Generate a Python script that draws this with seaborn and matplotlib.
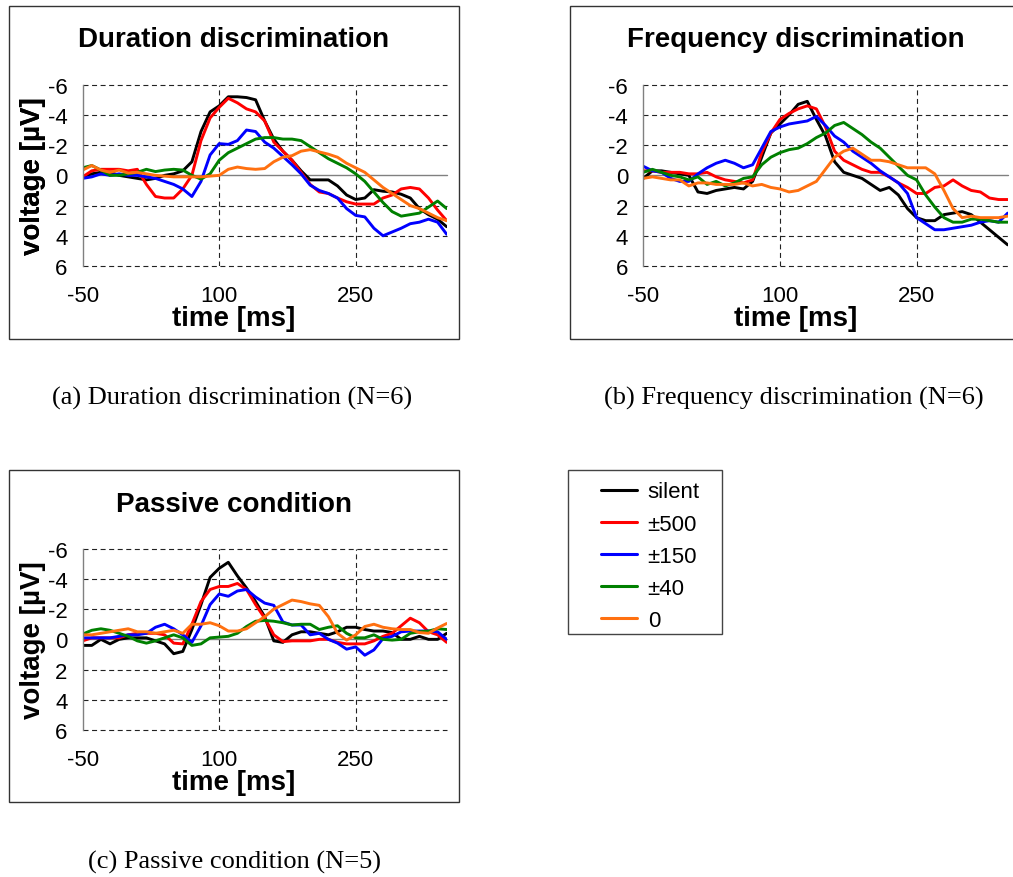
import matplotlib
matplotlib.use("Agg")
import matplotlib.pyplot as plt
import numpy as np
import pandas as pd
import seaborn as sns
from matplotlib.patches import Rectangle

# ---------------- data ----------------
time_ms = list(range(-50, 351, 10))
conditions = ["silent", "±500", "±150", "±40", "0"]
colors = ["#000000", "#ff0000", "#0000ff", "#008000", "#ff7010"]

x_ticks = [-50, 100, 250]
x_tick_labels = ["-50", "100", "250"]
y_ticks = [-6, -4, -2, 0, 2, 4, 6]
y_tick_labels = ["-6", "-4", "-2", "0", "2", "4", "6"]

panel_titles = ["Duration discrimination", "Frequency discrimination", "Passive condition"]
captions = ["(a) Duration discrimination (N=6)",
            "(b) Frequency discrimination (N=6)",
            "(c) Passive condition (N=5)"]

# (a) Duration discrimination
dur_silent = [0.1, -0.1, -0.2, -0.2, 0.0, 0.1, 0.2, 0.3, 0.2, 0.0, -0.1, -0.3, -0.9, -2.9, -4.2, -4.6,
              -5.2, -5.2, -5.15, -5.0, -3.6, -2.4, -1.6, -1.0, -0.3, 0.3, 0.3, 0.3, 0.7, 1.3, 1.6,
              1.5, 0.95, 1.05, 1.1, 1.25, 1.5, 2.2, 2.6, 2.9, 3.4]
dur_500 = [0.1, -0.3, -0.4, -0.4, -0.4, -0.3, -0.4, 0.6, 1.4, 1.5, 1.5, 0.9, 0.0, -2.3, -3.8, -4.5,
           -5.1, -4.8, -4.4, -4.2, -3.6, -2.2, -1.6, -1.0, -0.2, 0.6, 1.1, 1.2, 1.5, 1.75, 1.9,
           1.9, 1.9, 1.5, 1.3, 0.9, 0.8, 0.9, 1.5, 2.3, 3.0]
dur_150 = [0.2, 0.1, -0.1, 0.0, -0.1, 0.0, 0.0, 0.1, 0.2, 0.4, 0.6, 0.9, 1.4, 0.4, -1.35, -2.1,
           -2.05, -2.3, -3.0, -2.9, -2.2, -1.8, -1.25, -0.7, -0.1, 0.65, 1.0, 1.2, 1.5, 2.2, 2.65,
           2.75, 3.5, 4.0, 3.75, 3.5, 3.2, 3.1, 2.9, 3.1, 3.9]
dur_40 = [-0.5, -0.65, -0.35, 0.0, 0.0, -0.1, -0.2, -0.4, -0.25, -0.35, -0.4, -0.35, 0.0, 0.25, -0.1,
          -1.0, -1.5, -1.8, -2.1, -2.4, -2.5, -2.5, -2.4, -2.4, -2.3, -1.9, -1.5, -1.1, -0.8, -0.5,
          -0.1, 0.4, 1.1, 1.8, 2.4, 2.7, 2.6, 2.5, 2.1, 1.7, 2.2]
dur_0 = [-0.35, -0.65, -0.35, -0.2, -0.35, -0.15, -0.2, -0.1, 0.0, 0.05, 0.1, 0.1, 0.1, 0.1, 0.05,
         0.0, -0.4, -0.55, -0.45, -0.4, -0.45, -0.9, -1.2, -1.3, -1.6, -1.7, -1.55, -1.4, -1.2, -0.8,
         -0.5, -0.2, 0.3, 0.8, 1.2, 1.6, 2.0, 2.2, 2.5, 2.8, 3.0]

# (b) Frequency discrimination
freq_silent = [0.2, -0.3, -0.3, -0.2, -0.1, 0.0, 1.1, 1.2, 1.0, 0.9, 0.8, 0.9, 0.4, -1.2, -2.8, -3.4,
               -4.0, -4.7, -4.9, -3.7, -2.6, -0.9, -0.2, 0.0, 0.2, 0.6, 1.0, 0.8, 1.3, 2.2, 2.8,
               3.0, 3.0, 2.6, 2.5, 2.4, 2.6, 3.1, 3.6, 4.1, 4.6]
freq_500 = [-0.3, -0.3, -0.2, -0.2, -0.2, -0.1, -0.1, -0.2, 0.1, 0.3, 0.4, 0.5, 0.3, -1.5, -2.8, -3.7,
            -4.1, -4.4, -4.6, -4.4, -3.2, -1.6, -1.0, -0.7, -0.4, -0.2, -0.2, 0.1, 0.5, 0.8, 1.2,
            1.2, 0.8, 0.7, 0.3, 0.7, 1.0, 1.1, 1.5, 1.6, 1.6]
freq_150 = [-0.6, -0.3, -0.2, 0.2, 0.4, 0.4, -0.1, -0.5, -0.8, -1.0, -0.8, -0.5, -0.7, -1.8, -2.9, -3.2,
            -3.4, -3.5, -3.6, -3.9, -3.3, -2.6, -2.2, -1.6, -1.2, -0.8, -0.3, 0.1, 0.5, 1.2, 2.8,
            3.2, 3.6, 3.6, 3.5, 3.4, 3.3, 3.1, 3.0, 3.1, 2.5]
freq_40 = [-0.2, -0.4, -0.2, 0.0, 0.1, 0.3, 0.1, 0.6, 0.4, 0.7, 0.5, 0.2, 0.1, -0.7, -1.2, -1.5,
           -1.7, -1.8, -2.1, -2.5, -2.8, -3.3, -3.5, -3.1, -2.7, -2.2, -1.8, -1.2, -0.6, 0.0, 0.3,
           1.3, 2.1, 2.8, 3.1, 3.1, 2.9, 2.9, 3.0, 3.1, 3.1]
freq_0 = [0.2, 0.1, 0.2, 0.3, 0.3, 0.7, 0.5, 0.5, 0.6, 0.6, 0.6, 0.5, 0.7, 0.6, 0.8, 0.9,
          1.1, 1.0, 0.7, 0.4, -0.4, -1.2, -1.6, -1.8, -1.4, -1.0, -1.0, -0.9, -0.7, -0.5, -0.5,
          -0.5, -0.1, 1.0, 2.2, 2.8, 2.7, 2.8, 2.8, 2.8, 2.7]

# (c) Passive condition
pas_silent = [0.4, 0.4, 0.0, 0.3, 0.0, -0.1, -0.1, -0.1, 0.1, 0.3, 0.95, 0.8, -0.65, -2.3, -4.1, -4.7,
              -5.1, -4.2, -3.4, -2.5, -1.5, 0.1, 0.2, -0.3, -0.5, -0.5, -0.4, -0.3, -0.5, -0.8, -0.8,
              -0.65, -0.55, -0.55, -0.45, 0.0, 0.0, -0.2, 0.0, 0.0, -0.4]
pas_500 = [0.1, -0.1, -0.1, -0.1, -0.1, -0.3, -0.4, -0.4, -0.4, -0.3, 0.25, 0.3, -1.0, -2.5, -3.3, -3.5,
           -3.5, -3.7, -3.3, -2.3, -1.4, -0.3, 0.15, 0.1, 0.1, 0.1, 0.0, 0.0, 0.2, 0.3, 0.3,
           0.3, 0.1, -0.2, -0.4, -0.9, -1.4, -1.1, -0.5, -0.3, 0.2]
pas_150 = [-0.1, -0.1, -0.1, -0.1, -0.2, -0.3, -0.3, -0.4, -0.8, -1.0, -0.7, -0.3, 0.2, -0.9, -2.3, -3.0,
           -2.85, -3.2, -3.3, -2.8, -2.4, -2.25, -1.15, -0.95, -0.95, -0.3, -0.4, 0.0, 0.25, 0.65, 0.5,
           1.05, 0.7, -0.05, -0.2, -0.5, -0.55, -0.55, -0.55, -0.5, 0.0]
pas_40 = [-0.35, -0.6, -0.7, -0.6, -0.4, -0.2, 0.1, 0.25, 0.1, -0.1, -0.3, -0.1, 0.4, 0.3, -0.1, -0.15,
          -0.2, -0.4, -0.85, -1.2, -1.25, -1.2, -1.1, -0.95, -1.0, -1.0, -0.65, -0.8, -0.9, -0.4, -0.1,
          -0.1, -0.3, 0.0, 0.05, 0.0, -0.4, -0.5, -0.55, -0.7, -0.65]
pas_0 = [-0.3, -0.3, -0.4, -0.5, -0.6, -0.7, -0.5, -0.5, -0.4, -0.5, -0.6, -0.4, -1.0, -1.0, -1.1, -0.9,
         -0.55, -0.55, -0.7, -1.1, -1.5, -2.0, -2.3, -2.6, -2.5, -2.35, -2.25, -1.5, -0.4, 0.05, -0.3,
         -0.85, -1.0, -0.8, -0.7, -0.65, -0.65, -0.45, -0.4, -0.75, -1.05]

panel_series = [
    [dur_silent, dur_500, dur_150, dur_40, dur_0],
    [freq_silent, freq_500, freq_150, freq_40, freq_0],
    [pas_silent, pas_500, pas_150, pas_40, pas_0],
]

# ---------------- style ----------------
sns.set_theme(style="white")
plt.rcParams["font.family"] = ["Liberation Sans", "DejaVu Sans"]
plt.rcParams["text.color"] = "black"
plt.rcParams["axes.labelcolor"] = "black"
plt.rcParams["xtick.color"] = "black"
plt.rcParams["ytick.color"] = "black"

W, H = 1013, 878
fig = plt.figure(figsize=(W / 100, H / 100), dpi=100)


def fx(x):
    return x / W


def fy(y):
    return 1 - y / H


# axes rectangles (pixel coordinates: left, top, right, bottom)
axes_px = [(82.7, 85.7, 446.7, 267.0), (643.3, 85.7, 1007.7, 267.0), (82.7, 549.7, 446.7, 731.0)]
boxes_px = [(9, 7, 459, 340), (570, 7, 1030, 340), (9, 471, 459, 803)]
title_y = [47, 47, 511.7]
box_centers = [234, 795.5, 234]
caption_pos = [(232, 398), (794, 398), (234, 862)]

handles = None
for i in range(3):
    l, t, r, b = axes_px[i]
    ax = fig.add_axes([fx(l), fy(b), fx(r) - fx(l), fy(t) - fy(b)])
    ax.set_facecolor("none")

    rows = []
    for cond, vals in zip(conditions, panel_series[i]):
        for tm, v in zip(time_ms, vals):
            rows.append((tm, v, cond))
    df = pd.DataFrame(rows, columns=["time", "voltage", "condition"])

    sns.lineplot(data=df, x="time", y="voltage", hue="condition", hue_order=conditions,
                 palette=colors, linewidth=2.1, errorbar=None, ax=ax, legend=(i == 0))
    if i == 0:
        handles, labels = ax.get_legend_handles_labels()
        ax.get_legend().remove()

    ax.set_xlim(-50, 350)
    ax.set_ylim(6, -6)
    ax.set_xticks(x_ticks, labels=x_tick_labels)
    ax.set_yticks(y_ticks, labels=y_tick_labels)
    ax.tick_params(axis="both", length=0, labelsize=16, colors="black", labelcolor="black")
    ax.tick_params(axis="x", pad=14)
    ax.tick_params(axis="y", pad=11)

    # grid: dashed, zero line solid gray
    ax.grid(True, color="#222222", linewidth=0.8, linestyle=(0, (4.5, 3.2)))
    for gl, yv in zip(ax.yaxis.get_gridlines(), y_ticks):
        gl.set_clip_on(False)
        if yv == 0:
            gl.set_linestyle("-")
            gl.set_color("#808080")
            gl.set_linewidth(1.0)
    for gl, xv in zip(ax.xaxis.get_gridlines(), x_ticks):
        if xv == -50:
            gl.set_visible(False)
    ax.set_axisbelow(True)

    for side in ["top", "right", "bottom"]:
        ax.spines[side].set_visible(False)
    ax.spines["left"].set_color("#808080")
    ax.spines["left"].set_linewidth(1.0)

    ax.set_xlabel("time [ms]", fontsize=20, fontweight="bold", va="baseline", color="black")
    ax.xaxis.set_label_coords((box_centers[i] - l) / (r - l), -59.0 / (b - t))
    ax.set_ylabel("voltage [µV]", fontsize=20, fontweight="bold", color="black")
    ax.yaxis.set_label_coords((46 - l) / (r - l), 0.5)

    ax.text((box_centers[i] - l) / (r - l), (b - title_y[i]) / (b - t), panel_titles[i],
            transform=ax.transAxes, ha="center", va="baseline", fontsize=20,
            fontweight="bold", color="black")

    bx0, by0, bx1, by1 = boxes_px[i]
    fig.patches.append(Rectangle((fx(bx0), fy(by1)), fx(bx1) - fx(bx0), fy(by0) - fy(by1),
                                 transform=fig.transFigure, fill=False,
                                 edgecolor="#333333", linewidth=1.0))

    cx, cy = caption_pos[i]
    fig.text(fx(cx), fy(cy), captions[i], ha="center", va="center",
             family=["Liberation Serif", "DejaVu Serif"], fontsize=19, color="black")

# legend box
fig.patches.append(Rectangle((fx(567.7), fy(634.7)), fx(722) - fx(567.7), fy(471) - fy(634.7),
                             transform=fig.transFigure, fill=False,
                             edgecolor="#444444", linewidth=1.0))
leg = fig.legend(handles, conditions, loc="upper left", bbox_to_anchor=(fx(601), fy(482.5)),
                 frameon=False, fontsize=16, handlelength=1.6, handletextpad=0.5,
                 labelspacing=0.5, borderpad=0.0, borderaxespad=0.0)
for lh in leg.get_lines():
    lh.set_linewidth(2.2)
for txt in leg.get_texts():
    txt.set_color("black")

fig.savefig("out.png", dpi=100)
